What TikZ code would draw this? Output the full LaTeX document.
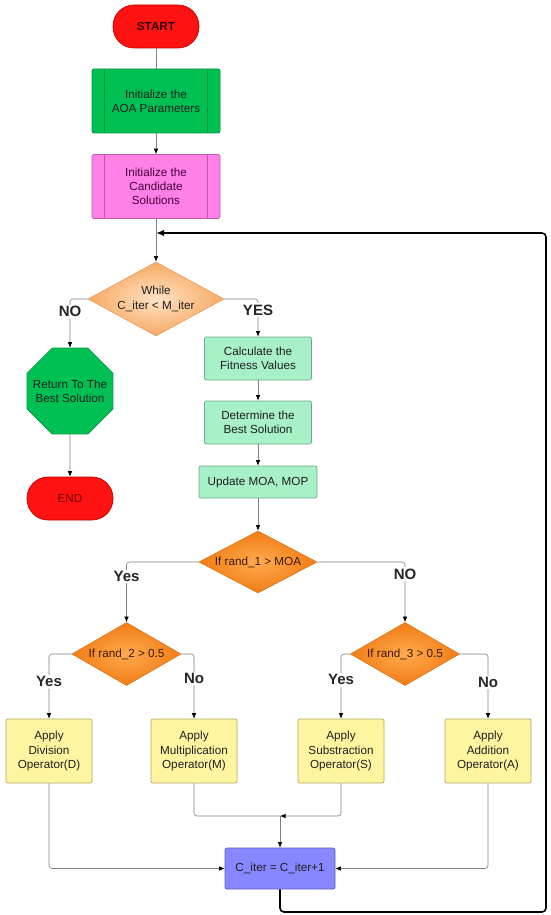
\documentclass[tikz,border=0pt]{standalone}
\usepackage{fontspec}
\setmainfont{Liberation Sans}
\usetikzlibrary{arrows.meta, shapes.geometric}
\definecolor{termred}{RGB}{255,18,18}
\definecolor{termline}{RGB}{190,0,0}
\definecolor{aoagreen}{RGB}{0,192,84}
\definecolor{aoaline}{RGB}{0,150,60}
\definecolor{candpink}{RGB}{255,128,230}
\definecolor{candline}{RGB}{190,90,170}
\definecolor{candtxt}{RGB}{70,0,60}
\definecolor{mint}{RGB}{168,240,200}
\definecolor{mintline}{RGB}{110,170,135}
\definecolor{opyellow}{RGB}{255,245,160}
\definecolor{opline}{RGB}{180,165,95}
\definecolor{iterblue}{RGB}{135,135,255}
\definecolor{iterline}{RGB}{90,90,190}
\tikzset{
  base/.style={align=center, inner sep=0pt, text=black!88,
    font=\fontsize{11.7}{14.3}\selectfont},
  term/.style={base, rectangle, rounded corners=21pt, minimum width=86pt,
    minimum height=43pt, fill=termred, draw=termline, line width=0.7pt},
  subproc/.style={base, rectangle, rounded corners=2pt, minimum width=128pt,
    minimum height=64pt, draw=#1, line width=0.7pt,
    path picture={\draw[#1, line width=0.7pt]
      ([xshift=12.5pt]path picture bounding box.north west) --
      ([xshift=12.5pt]path picture bounding box.south west)
      ([xshift=-12.5pt]path picture bounding box.north east) --
      ([xshift=-12.5pt]path picture bounding box.south east);}},
  proc/.style={base, rectangle, rounded corners=2pt, fill=mint,
    draw=mintline, line width=0.7pt},
  opbox/.style={base, rectangle, rounded corners=2pt, minimum width=86pt,
    minimum height=64pt, fill=opyellow, draw=opline, line width=0.7pt},
  cond/.style={base, diamond, line width=0.7pt},
  lbl/.style={fill=white, inner sep=1.5pt, text=black!85,
    font=\fontsize{15}{16}\selectfont\bfseries},
  conn/.style={draw=black!50, line width=0.6pt, rounded corners=3pt,
    -{Latex[length=5.5pt, width=4.5pt, color=black]}},
  loopline/.style={draw=black, line width=1.6pt, rounded corners=4pt,
    -{Latex[length=8pt, width=6.5pt]}}
}
\begin{document}
\begin{tikzpicture}[x=1pt, y=-1pt]
  \useasboundingbox (0,0) rectangle (550,915);
  % main column
  \node[term, text=black!80!red, font=\fontsize{11.7}{14}\selectfont\bfseries] (start) at (156,26.5) {START};
  \node[subproc=aoaline, fill=aoagreen] (aoa) at (156,101) {Initialize the\\AOA Parameters};
  \node[subproc=candline, fill=candpink, text=candtxt] (cand) at (156,186.5) {Initialize the\\Candidate\\Solutions};
  \coordinate (loopin) at (156,233);
  \node[cond, aspect=1.84, minimum width=136pt, minimum height=74pt, inner color={rgb,255:red,255;green,226;blue,196},
    outer color={rgb,255:red,246;green,170;blue,100}, draw={rgb,255:red,230;green,160;blue,100}] (while) at (156,299) {While\\C\_iter < M\_iter};
  % NO side
  \node[base, regular polygon, regular polygon sides=8, inner sep=-12pt, minimum size=93pt, fill=aoagreen, draw=aoaline,
    line width=0.7pt] (ret) at (70,391) {Return To The\\Best Solution};
  \node[term, text=black!55!red] (stop) at (70,498.5) {END};
  % YES side
  \node[proc, minimum width=107pt, minimum height=43pt] (calc) at (258,358.5) {Calculate the\\Fitness Values};
  \node[proc, minimum width=107pt, minimum height=43pt] (det) at (258,422.5) {Determine the\\Best Solution};
  \node[proc, minimum width=118pt, minimum height=32pt] (upd) at (258,482) {Update MOA, MOP};
  \node[cond, aspect=1.9, minimum width=118pt, minimum height=62pt, inner color={rgb,255:red,255;green,170;blue,80},
    outer color={rgb,255:red,240;green,125;blue,20}, draw={rgb,255:red,225;green,120;blue,30},
    text={rgb,255:red,60;green,25;blue,0}] (r1) at (258,562) {If rand\_1 > MOA};
  \node[cond, aspect=1.73, minimum width=109pt, minimum height=63pt, inner color={rgb,255:red,255;green,170;blue,80},
    outer color={rgb,255:red,240;green,125;blue,20}, draw={rgb,255:red,225;green,120;blue,30},
    text={rgb,255:red,60;green,25;blue,0}] (d2) at (126.5,654) {If rand\_2 > 0.5};
  \node[cond, aspect=1.73, minimum width=109pt, minimum height=63pt, inner color={rgb,255:red,255;green,170;blue,80},
    outer color={rgb,255:red,240;green,125;blue,20}, draw={rgb,255:red,225;green,120;blue,30},
    text={rgb,255:red,60;green,25;blue,0}] (d3) at (405,654) {If rand\_3 > 0.5};
  % operators
  \node[opbox] (divb) at (49,751) {Apply\\Division\\Operator(D)};
  \node[opbox] (mulb) at (194,751) {Apply\\Multiplication\\Operator(M)};
  \node[opbox] (subb) at (341,751) {Apply\\Substraction\\Operator(S)};
  \node[opbox] (addb) at (488,751) {Apply\\Addition\\Operator(A)};
  \coordinate (mrg) at (280,816);
  \node[base, rectangle, rounded corners=2pt, minimum width=110pt, minimum height=41pt, fill=iterblue,
    draw=iterline, line width=0.7pt] (citer) at (280,868.5) {C\_iter = C\_iter+1};
  \coordinate (loopbr) at (546,912);
  % connectors
  \draw[conn, -] (start) -- (aoa);
  \draw[conn] (aoa) -- (cand);
  \draw[conn] (cand) -- (while);
  \draw[conn] (while.west) -| node[lbl, pos=0.63] {NO} (ret.north);
  \draw[conn] (while.east) -| node[lbl, pos=0.645] {YES} (calc.north);
  \draw[conn] (ret) -- (stop);
  \draw[conn] (calc) -- (det);
  \draw[conn] (det) -- (upd);
  \draw[conn] (upd) -- (r1);
  \draw[conn] (r1.west) -| node[lbl, pos=0.62] {Yes} (d2.north);
  \draw[conn] (r1.east) -| node[lbl, pos=0.6] {NO} (d3.north);
  \draw[conn] (d2.west) -| node[lbl, pos=0.715] {Yes} (divb.north);
  \draw[conn] (d2.east) -| node[lbl, pos=0.69] {No} (mulb.north);
  \draw[conn] (d3.west) -| node[lbl, pos=0.7] {Yes} (subb.north);
  \draw[conn] (d3.east) -| node[lbl, pos=0.72] {No} (addb.north);
  \draw[conn, -] (mulb.south) |- (mrg);
  \draw[conn] (subb.south) |- (mrg);
  \draw[conn] (mrg) -- (citer.north);
  \draw[conn] (divb.south) |- (citer.west);
  \draw[conn] (addb.south) |- (citer.east);
  % loop back
  \draw[loopline] (citer.south) |- (loopbr) |- (loopin);
\end{tikzpicture}
\end{document}
